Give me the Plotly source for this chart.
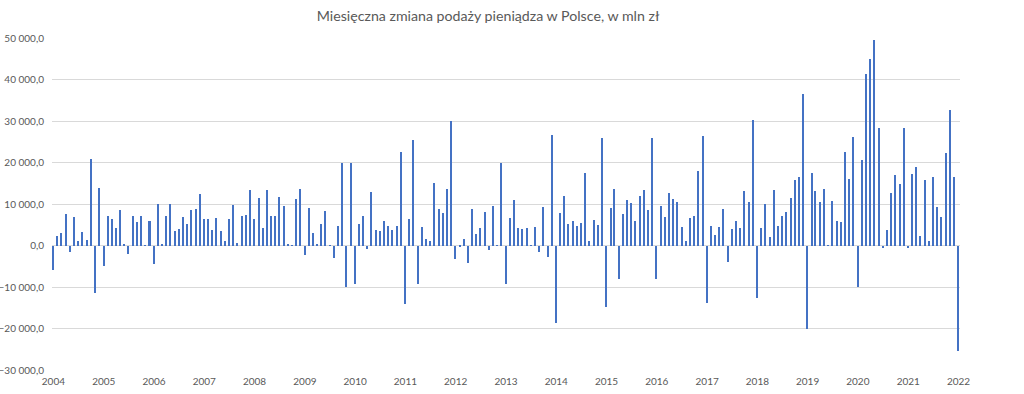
import plotly.graph_objects as go
import pandas as pd

start_month = "2004-01-01"
values_2004 = [-5850, 2300, 3100, 7500, -1600, 6900, 1100, 3250, 1400, 20800, -11500, 13800]
values_2005 = [-5000, 7100, 6500, 4300, 8500, 200, -2000, 7200, 5600, 7200, 100, 6000]
values_2006 = [-4400, 10000, 200, 7000, 10000, 3600, 3900, 6800, 5300, 8500, 8900, 12300]
values_2007 = [6300, 6400, 3700, 6700, 3500, 1100, 6300, 9800, 650, 7200, 7400, 13300]
values_2008 = [6400, 11500, 4300, 13300, 7100, 7100, 11700, 9500, 400, 100, 11200, 13500]
values_2009 = [-2400, 9100, 2900, 150, 5300, 8300, 100, -3100, 4600, 20000, -10000, 20000]
values_2010 = [-9200, 5300, 7200, -800, 13000, 3800, 3500, 5900, 4600, 3800, 4800, 22600]
values_2011 = [-14000, 6500, 25400, -9200, 4500, 1600, 1100, 15000, 8800, 7800, 13700, 29900]
values_2012 = [-3300, -300, 1500, -4100, 8900, 2800, 4100, 8000, -1200, 9600, 100, 20000]
values_2013 = [-9300, 6700, 11000, 4100, 3900, 4200, 100, 4500, -1600, 9300, -2700, 26700]
values_2014 = [-18700, 7800, 11900, 5300, 5900, 4800, 5400, 17400, 1100, 6100, 5000, 26000]
values_2015 = [-14800, 9100, 13700, -8100, 7500, 11000, 10300, 5900, 12000, 13300, 8500, 26000]
values_2016 = [-8000, 9600, 6800, 12700, 11100, 10600, 4500, 1000, 6700, 7200, 17900, 26300]
values_2017 = [-13800, 4600, 2600, 4500, 8900, -3900, 4000, 5900, 4300, 13100, 10400, 30300]
values_2018 = [-12700, 4200, 10000, 2000, 13300, 4800, 7200, 8000, 11400, 15900, 16500, 36400]
values_2019 = [-20000, 17400, 13100, 10400, 13600, 100, 10700, 6000, 5700, 22500, 16100, 26100]
values_2020 = [-10000, 20600, 41400, 45000, 49600, 28300, -500, 3800, 12600, 17100, 14800, 28300]
values_2021 = [-500, 17300, 18900, 2400, 15900, 1000, 16500, 9200, 6900, 22200, 32600, 16500]
values_2022 = [-25500]

values = (values_2004 + values_2005 + values_2006 + values_2007 + values_2008 + values_2009
          + values_2010 + values_2011 + values_2012 + values_2013 + values_2014 + values_2015
          + values_2016 + values_2017 + values_2018 + values_2019 + values_2020 + values_2021
          + values_2022)
months = pd.date_range(start_month, periods=len(values), freq="MS")

title = "Miesięczna zmiana podaży pieniądza w Polsce, w mln zł"
grey = "#595959"

fig = go.Figure(go.Bar(
    x=months, y=values,
    width=11 * 86400000,
    marker=dict(color="#4472C4", line=dict(width=0)),
))

fig.update_layout(
    width=1024, height=394,
    margin=dict(l=52, r=64, t=38, b=24),
    paper_bgcolor="white", plot_bgcolor="white",
    separators=", ",
    font=dict(family="Lato, Open Sans, sans-serif", color=grey, size=10),
    title=dict(text=title, x=488 / 1024, xref="container", xanchor="center",
               y=1 - 16 / 394, yref="container", yanchor="middle",
               font=dict(size=14.2, color=grey)),
    showlegend=False,
    bargap=0,
)
fig.update_xaxes(
    type="date",
    range=["2003-12-22", "2022-01-12"],
    tick0="2004-01-01", dtick="M12", tickformat="%Y",
    showgrid=False, showline=False, zeroline=False,
    ticks="", ticklabelstandoff=4, automargin=False,
)
fig.update_yaxes(
    range=[-30000, 50000], dtick=10000, tickformat=",.1f",
    showgrid=True, gridcolor="#d9d9d9", gridwidth=1,
    zeroline=True, zerolinecolor="#d9d9d9", zerolinewidth=1,
    showline=False, ticks="", ticklabelstandoff=7, automargin=False,
)

fig.write_html("out.html", config={"displayModeBar": False},
               post_script="document.body.style.margin='0';")
